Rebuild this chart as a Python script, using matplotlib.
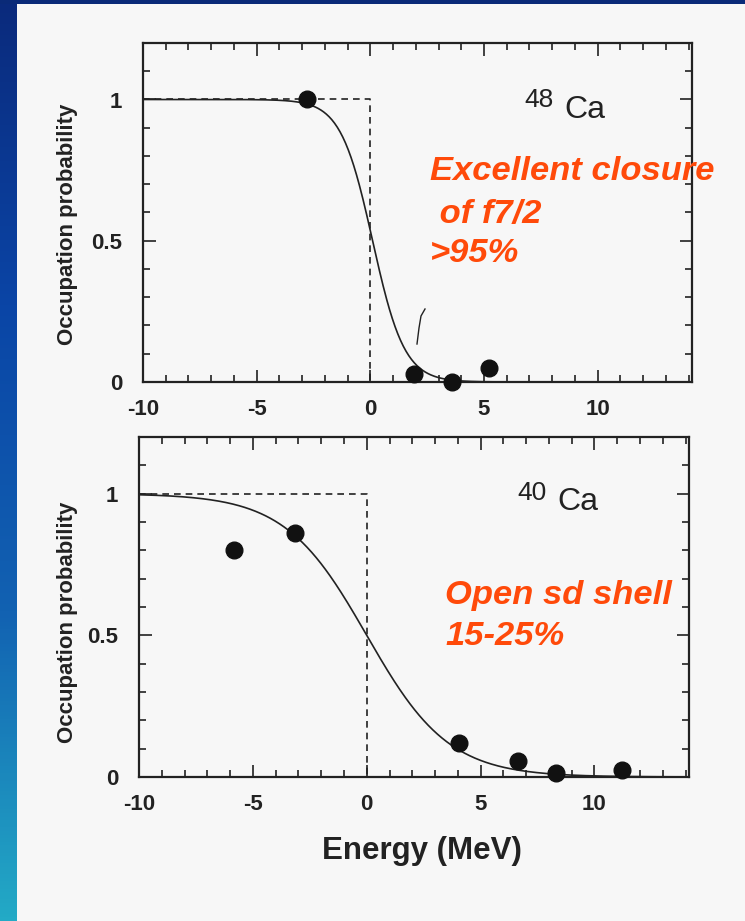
import numpy as np
import matplotlib
matplotlib.use("Agg")
import matplotlib.pyplot as plt
from matplotlib.colors import LinearSegmentedColormap
from matplotlib.ticker import MultipleLocator, FixedLocator, FixedFormatter

plt.rcParams['font.family'] = ['Liberation Sans', 'DejaVu Sans']

# ---- data -------------------------------------------------------------
# 48Ca: measured occupation probabilities
ca48_energy = [-2.8, 1.9, 3.6, 5.2]
ca48_occupation = [1.0, 0.03, 0.0, 0.05]
# Fermi-function fit for 48Ca (Fermi energy, diffuseness in MeV)
ca48_fermi_energy = 0.1
ca48_diffuseness = 0.7

# 40Ca: measured occupation probabilities
ca40_energy = [-5.85, -3.15, 4.05, 6.65, 8.3, 11.2]
ca40_occupation = [0.80, 0.86, 0.12, 0.055, 0.015, 0.025]
# Fermi-function fit for 40Ca
ca40_fermi_energy = 0.0
ca40_diffuseness = 1.8

# independent-particle (sharp Fermi surface) step
step_energy = [-10, 0, 0]
step_occupation = [1, 1, 0]

x_ticks = [-10, -5, 0, 5, 10]
x_tick_labels = ['-10', '-5', '0', '5', '10']
y_ticks = [0, 0.5, 1]
y_tick_labels = ['0', '0.5', '1']

# ---- figure -----------------------------------------------------------
W, H = 745, 921
fig = plt.figure(figsize=(W / 100, H / 100), dpi=100)
fig.patch.set_facecolor('#f7f7f7')


def fx(px):
    return px / W


def fy(py):
    return 1 - py / H


# slide border: gradient strip on the left, navy band across the top
cmap = LinearSegmentedColormap.from_list(
    'slide', ['#0a2a7c', '#0a45a6', '#1262b2', '#23aac6'])
band = fig.add_axes([0, 0, fx(17), 1])
band.imshow(np.linspace(0, 1, 256)[:, None], aspect='auto', cmap=cmap,
            extent=[0, 1, 1, 0])
band.axis('off')
top_band = fig.add_axes([0, fy(4), 1, 4 / H])
top_band.set_facecolor('#0a2a78')
top_band.set_xticks([])
top_band.set_yticks([])
for s in top_band.spines.values():
    s.set_visible(False)

ink = '#222222'
orange = '#ff4a0a'
grid_e = np.linspace(-10, 14.15, 600)


def fermi(e, ef, a):
    return 1.0 / (1.0 + np.exp((e - ef) / a))


def style_axes(ax):
    ax.set_xlim(-10, 14.15)
    ax.set_ylim(0, 1.2)
    ax.set_facecolor('none')
    ax.xaxis.set_major_locator(FixedLocator(x_ticks))
    ax.xaxis.set_major_formatter(FixedFormatter(x_tick_labels))
    ax.xaxis.set_minor_locator(MultipleLocator(1))
    ax.yaxis.set_major_locator(FixedLocator(y_ticks))
    ax.yaxis.set_major_formatter(FixedFormatter(y_tick_labels))
    ax.yaxis.set_minor_locator(MultipleLocator(0.1))
    ax.tick_params(which='both', direction='in', top=True, right=True,
                   color=ink, width=1.2)
    ax.tick_params(which='major', length=9, labelsize=16, labelcolor=ink)
    ax.tick_params(axis='x', which='major', pad=12)
    ax.tick_params(axis='y', which='major', pad=15)
    ax.tick_params(which='minor', length=5)
    for lab in ax.get_xticklabels() + ax.get_yticklabels():
        lab.set_fontweight('bold')
    for s in ax.spines.values():
        s.set_color(ink)
        s.set_linewidth(1.6)


def panel(ax, energy, occ, ef, a):
    style_axes(ax)
    ax.plot(step_energy, step_occupation, color=ink, lw=1.2,
            linestyle=(0, (4, 3)), clip_on=False)
    ax.plot(grid_e, fermi(grid_e, ef, a), color=ink, lw=1.2)
    ax.plot(energy, occ, 'o', color='#111111', markersize=12, clip_on=False,
            zorder=5)


ax1 = fig.add_axes([fx(143), fy(382), fx(692 - 143), (382 - 43) / H])
panel(ax1, ca48_energy, ca48_occupation, ca48_fermi_energy, ca48_diffuseness)

ax2 = fig.add_axes([fx(139), fy(777), fx(689 - 139), (777 - 437) / H])
panel(ax2, ca40_energy, ca40_occupation, ca40_fermi_energy, ca40_diffuseness)

# small pen stroke on the 48Ca panel
fig.add_artist(plt.Line2D([fx(417), fx(419), fx(421), fx(425)],
                          [fy(344), fy(328), fy(316), fy(309)],
                          color=ink, lw=1.0))

# axis titles
for yc in (224, 622):
    fig.text(fx(68), fy(yc), 'Occupation probability', rotation=90,
             ha='center', va='center', fontsize=16, fontweight='bold',
             color=ink)
fig.text(fx(422), fy(851), 'Energy (MeV)', ha='center', va='center',
         fontsize=22.5, fontweight='bold', color=ink)

# nucleus labels
fig.text(fx(524), fy(107), '48', fontsize=19, color=ink, va='baseline')
fig.text(fx(564), fy(118), 'Ca', fontsize=23, color=ink, va='baseline')
fig.text(fx(517), fy(500), '40', fontsize=19, color=ink, va='baseline')
fig.text(fx(557), fy(510), 'Ca', fontsize=23, color=ink, va='baseline')

# commentary
note = dict(color=orange, fontsize=24.8, fontweight='bold', fontstyle='italic',
            va='baseline')
fig.text(fx(430), fy(180), 'Excellent closure', **note)
fig.text(fx(430), fy(223), ' of f7/2', **note)
fig.text(fx(430), fy(262), '>95%', **note)
fig.text(fx(445), fy(604), 'Open sd shell', **note)
fig.text(fx(445), fy(645), '15-25%', **note)

fig.savefig('out.png', dpi=100, facecolor=fig.get_facecolor())
